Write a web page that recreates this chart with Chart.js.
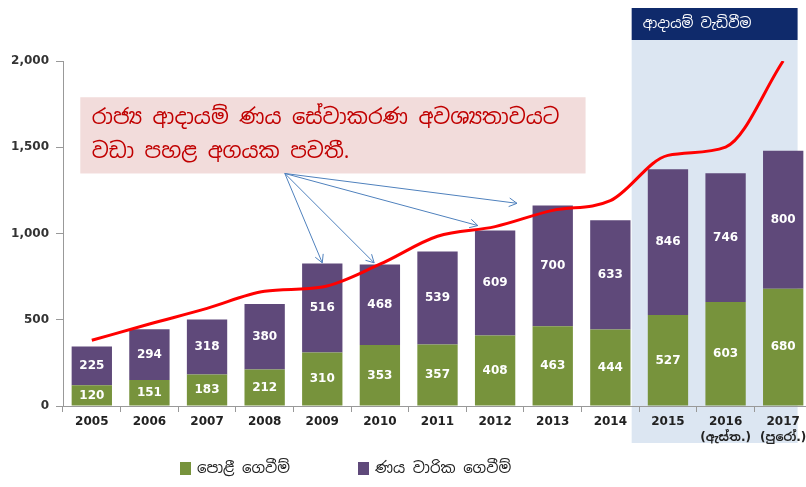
<!DOCTYPE html>
<html>
<head>
<meta charset="utf-8">
<script src="https://cdn.jsdelivr.net/npm/chart.js@4"></script>
<style>
  html, body { margin: 0; padding: 0; background: #fff; overflow: hidden; }
  #wrap { width: 812px; height: 487px; }
</style>
</head>
<body>
<div id="wrap"><canvas id="grafico"></canvas></div>
<script>
const years = ['2005', '2006', '2007', '2008', '2009', '2010', '2011', '2012', '2013', '2014', '2015',
  ['2016', '(ඇස්ත.)'], ['2017', '(පුරෝ.)']];
const interest = [120, 151, 183, 212, 310, 353, 357, 408, 463, 444, 527, 603, 680];
const amortization = [225, 294, 318, 380, 516, 468, 539, 609, 700, 633, 846, 746, 800];
const revenue = [381, 475, 566, 665, 690, 822, 984, 1040, 1134, 1190, 1453, 1501, 2000];
const legendLabels = ['පොළී ගෙවීම්', 'ණය වාරික ගෙවීම්'];
const noteLines = ['රාජ්‍ය ආදායම් ණය සේවාකරණ අවශ්‍යතාවයට', 'වඩා පහළ අගයක පවතී.'];
const boxTitle = 'ආදායම් වැඩිවීම';

const SIN = '"Noto Sans Sinhala", "Iskoola Pota", "Noto Sans", sans-serif';
const green = '#77933c';
const purple = '#5f497a';

const extras = {
  id: 'extras',
  beforeDraw(chart) {
    const c = chart.ctx, x = chart.scales.x;
    const step = x.getPixelForValue(1) - x.getPixelForValue(0);
    const left = x.getPixelForValue(10) - 0.63 * step;
    const right = x.getPixelForValue(12) + 0.25 * step;
    c.save();
    c.fillStyle = '#dce6f2';
    c.fillRect(left, 40, right - left, 403);
    c.fillStyle = '#0f2a6b';
    c.fillRect(left, 8, right - left, 32);
    c.fillStyle = '#fff';
    c.font = '14px ' + SIN;
    c.textBaseline = 'middle';
    c.fillText(boxTitle, left + 11, 24);
    c.restore();
  },
  afterDatasetsDraw(chart) {
    const c = chart.ctx, x = chart.scales.x, y = chart.scales.y;
    c.save();
    // valores dentro de las barras
    c.font = 'bold 12px "DejaVu Sans", sans-serif';
    c.fillStyle = '#fff';
    c.textAlign = 'center';
    c.textBaseline = 'middle';
    interest.forEach((v, i) => {
      c.fillText(v, x.getPixelForValue(i), y.getPixelForValue(v / 2));
      c.fillText(amortization[i], x.getPixelForValue(i), y.getPixelForValue(v + amortization[i] / 2));
    });

    // recuadro de nota
    const bl = x.getPixelForValue(-0.2), br = x.getPixelForValue(8.57);
    const bt = y.getPixelForValue(1790), bb = y.getPixelForValue(1348);
    c.fillStyle = '#f2dcdb';
    c.fillRect(bl, bt, br - bl, bb - bt);
    c.fillStyle = '#c00000';
    c.textAlign = 'left';
    c.font = '21px ' + SIN;
    c.fillText(noteLines[0], x.getPixelForValue(0), y.getPixelForValue(1667));
    c.fillText(noteLines[1], x.getPixelForValue(0), y.getPixelForValue(1470));

    // flechas
    const sx = x.getPixelForValue(3.35), sy = bb;
    const targets = [[4, 830], [4.9, 830], [6.7, 1046], [7.38, 1175]];
    c.strokeStyle = '#4f81bd';
    c.lineWidth = 1;
    targets.forEach(([ti, tv]) => {
      const tx = x.getPixelForValue(ti), ty = y.getPixelForValue(tv);
      const ang = Math.atan2(ty - sy, tx - sx);
      c.beginPath();
      c.moveTo(sx, sy);
      c.lineTo(tx, ty);
      c.moveTo(tx - 9 * Math.cos(ang - 0.5), ty - 9 * Math.sin(ang - 0.5));
      c.lineTo(tx, ty);
      c.lineTo(tx - 9 * Math.cos(ang + 0.5), ty - 9 * Math.sin(ang + 0.5));
      c.stroke();
    });

    // leyenda
    c.font = '15px ' + SIN;
    const ly = 469;
    [[180, green], [358, purple]].forEach(([lx, col], k) => {
      c.fillStyle = col;
      c.fillRect(lx, ly - 7, 11, 13);
      c.fillStyle = '#222';
      c.fillText(legendLabels[k], lx + 17, ly);
    });
    c.restore();
  }
};

const ctx = document.getElementById('grafico').getContext('2d');
new Chart(ctx, {
  type: 'bar',
  data: {
    labels: years,
    datasets: [
      {
        type: 'line',
        label: 'revenue',
        data: revenue,
        borderColor: '#ff0000',
        borderWidth: 3,
        pointRadius: 0,
        cubicInterpolationMode: 'monotone',
        fill: false,
        stack: 'line',
        order: 0
      },
      {
        label: legendLabels[0],
        data: interest,
        backgroundColor: green,
        borderWidth: 0,
        stack: 'debt',
        order: 1
      },
      {
        label: legendLabels[1],
        data: amortization,
        backgroundColor: purple,
        borderWidth: 0,
        stack: 'debt',
        order: 1
      }
    ]
  },
  options: {
    responsive: true,
    maintainAspectRatio: false,
    animation: false,
    layout: { padding: { top: 61, bottom: 41, right: 0, left: 0 } },
    datasets: { bar: { barPercentage: 0.7, categoryPercentage: 1 } },
    plugins: { legend: { display: false }, tooltip: { enabled: false } },
    scales: {
      x: {
        stacked: true,
        grid: { offset: true, drawOnChartArea: false, tickLength: 6, color: '#999' },
        border: { color: '#999' },
        ticks: {
          color: '#222',
          font: { size: 12, weight: 'bold', family: 'DejaVu Sans, ' + SIN, lineHeight: 1.35 },
          padding: 2,
          maxRotation: 0
        },
        afterFit: s => { s.height = 40; }
      },
      y: {
        stacked: true,
        min: 0,
        max: 2000,
        ticks: {
          stepSize: 500,
          color: '#333',
          padding: 7,
          font: { size: 12, weight: 'bold', family: 'DejaVu Sans' },
          callback: v => v.toLocaleString('en-US')
        },
        grid: { drawOnChartArea: false, tickLength: 7, color: '#999' },
        border: { color: '#999' },
        afterFit: s => { s.width = 63; }
      }
    }
  },
  plugins: [extras]
});
</script>
</body>
</html>
